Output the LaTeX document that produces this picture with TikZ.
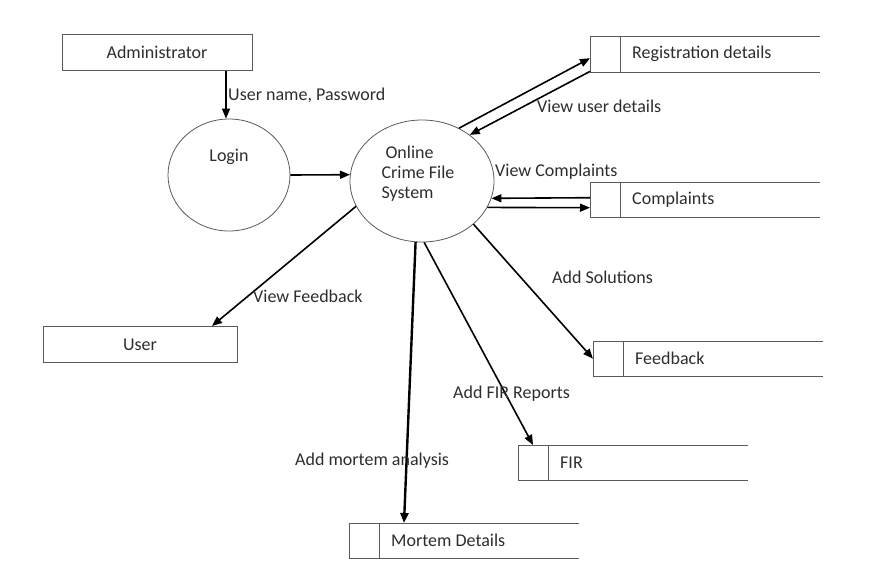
\documentclass[tikz,border=0pt]{standalone}
\usepackage{fontspec}
\setmainfont{Carlito}
\usetikzlibrary{shapes.geometric, positioning, arrows.meta, calc}
\definecolor{cT}{RGB}{45,45,45}
\definecolor{cB}{RGB}{90,90,90}

\begin{document}
\begin{tikzpicture}[x=1pt, y=-1pt,
                    every node/.style={font=\fontsize{18}{20}\selectfont, text=cT},
                    entity/.style={draw=cB, line width=1pt, minimum width=190, minimum height=36},
                    process/.style={ellipse, draw=cB, line width=0.8pt},
                    store/.style={anchor=north west, minimum width=230, minimum height=36,
                                  text width=146, align=flush left, inner xsep=0},
                    flow/.style={-{Triangle[length=10pt, width=8pt]}, line width=1.6pt, black},
                    lbl/.style={anchor=west, inner sep=0}]

    \useasboundingbox (0,0) rectangle (873,571);

    % External entities
    \node[entity] (admin) at (157,52.5) {Administrator};
    \node[entity, minimum width=194] (user) at (140,344.5) {User};

    % Processes
    \node[process, minimum width=122, minimum height=112,
          label={[yshift=18]center:Login}] (login) at (229,175) {};
    \node[process, minimum width=144, minimum height=122,
          label={[xshift=-4, yshift=7, align=left]center:\hspace*{4pt}Online\\Crime File\\System}] (ocfs) at (422,181) {};

    % Data stores
    \node[store] (reg)  at (590,36)  {Registration details};
    \node[store, minimum height=35] (comp) at (590,182) {Complaints};
    \node[store, minimum height=35] (fb)   at (593,341) {Feedback};
    \node[store, minimum height=35] (fir)  at (518,445) {FIR};
    \node[store, minimum height=35] (mort) at (349,523) {Mortem Details};

    \foreach \s in {reg, comp, fb, fir, mort}
        \draw[draw=cB, line width=1pt]
            (\s.north east) -- (\s.north west) -- (\s.south west) -- (\s.south east)
            ([xshift=30]\s.north west) -- ([xshift=30]\s.south west);

    % Data flows
    \path[flow]
    ([xshift=69]admin.south) edge ([xshift=-3]login.north)
    (login.east) edge (ocfs.175)
    (ocfs.55) edge ([yshift=-4]reg.west)
    ([yshift=1]reg.south west) edge (ocfs.44)
    ([yshift=2]comp.west) edge (ocfs.-14)
    (ocfs.-22) edge ([yshift=-8]comp.west)
    (ocfs.-40) edge (fb.west)
    (ocfs.-88) edge ([xshift=15]fir.north west)
    (ocfs.201) edge ([xshift=72]user.north);
    \draw[flow, line width=2.4pt] (ocfs.-96) -- ([xshift=55]mort.north west);

    % Flow labels
    \node[lbl] (lpass) at (228,95)  {User name, Password};
    \node[lbl] (lview) at (537,106) {View user details};
    \node[lbl] (lcomp) at (495,172) {View Complaints};
    \node[lbl] (lsol)  at (552,277) {Add Solutions};
    \node[lbl] (lfeed) at (253,296) {View Feedback};
    \node[lbl] (lfir)  at (453,394) {Add FIR Reports};
    \node[lbl] (lmort) at (295,461) {Add mortem analysis};
    
\end{tikzpicture}
\end{document}
